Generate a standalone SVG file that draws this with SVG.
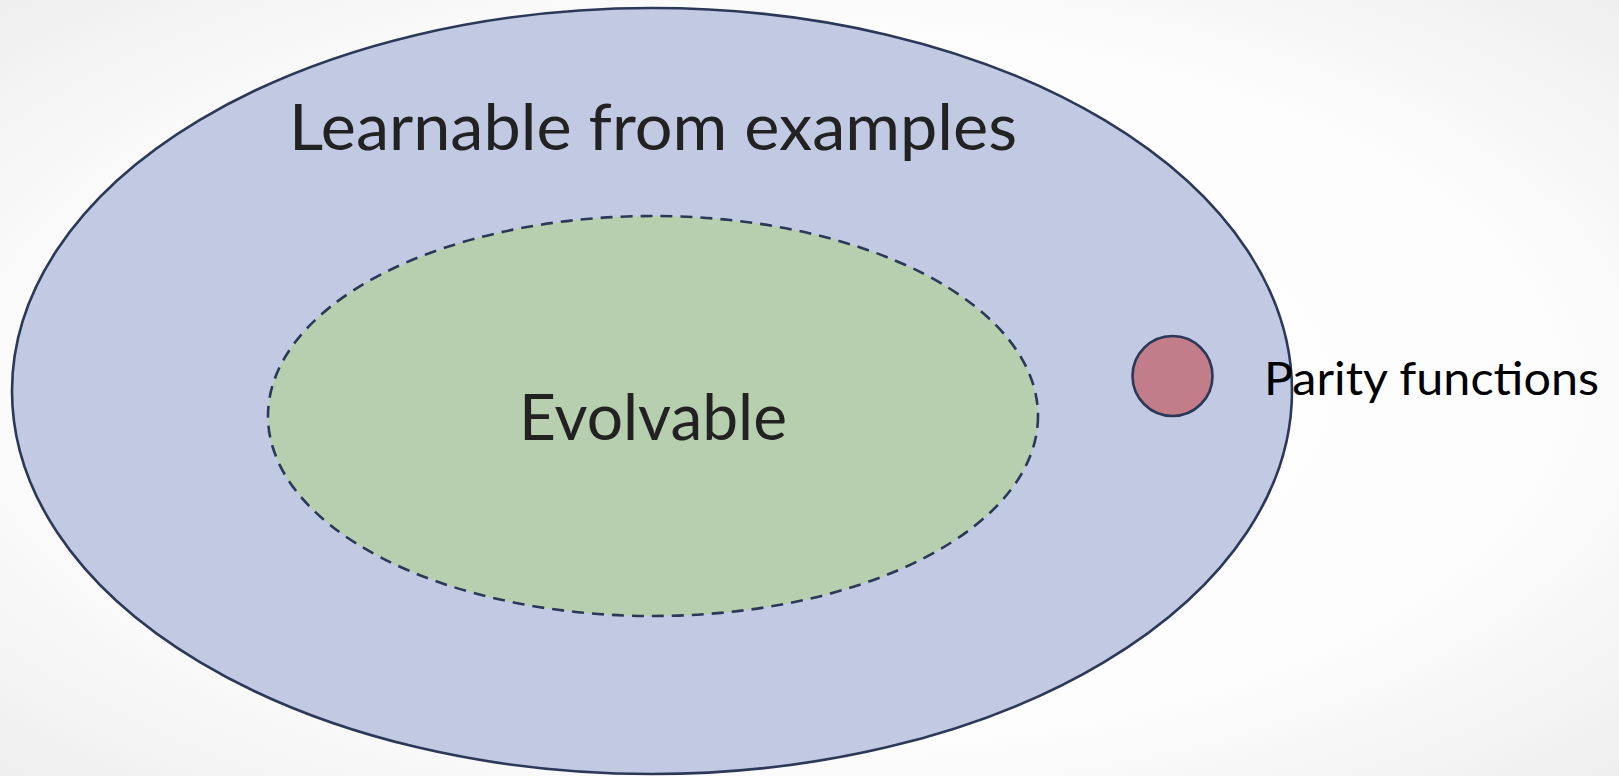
<svg xmlns="http://www.w3.org/2000/svg" width="1619" height="776" viewBox="0 0 1619 776">
  <defs>
    <radialGradient id="bg" cx="50%" cy="50%" r="75%">
      <stop offset="0" stop-color="#ffffff"/>
      <stop offset="0.6" stop-color="#fdfdfd"/>
      <stop offset="1" stop-color="#ececec"/>
    </radialGradient>
    <style>
      .set { stroke: #2c3858; stroke-width: 2.6; }
      .label { font-family: Lato, "DejaVu Sans", sans-serif; fill: #222222; }
    </style>
  </defs>

  <rect x="0" y="0" width="1619" height="776" fill="url(#bg)"/>

  <!-- outer set -->
  <g id="learnable">
    <ellipse class="set" cx="652" cy="391" rx="640" ry="383" fill="#c2cae3"/>
    <text class="label" x="653" y="150" font-size="64" text-anchor="middle" textLength="728" lengthAdjust="spacingAndGlyphs">Learnable from examples</text>
  </g>

  <!-- inner set, dashed boundary -->
  <g id="evolvable">
    <ellipse class="set" cx="653" cy="416" rx="385" ry="200" fill="#b8cfaf" stroke-width="3" stroke-dasharray="12 8"/>
    <text class="label" x="653" y="440" font-size="63" text-anchor="middle" textLength="268" lengthAdjust="spacingAndGlyphs">Evolvable</text>
  </g>

  <!-- small point set -->
  <g id="parity">
    <circle class="set" cx="1172.5" cy="376" r="40" fill="#c17d8a"/>
    <text class="label" x="1264" y="395" font-size="47" style="fill:#000" textLength="335" lengthAdjust="spacingAndGlyphs">Parity functions</text>
  </g>

  <g id="connectors"/>
</svg>
